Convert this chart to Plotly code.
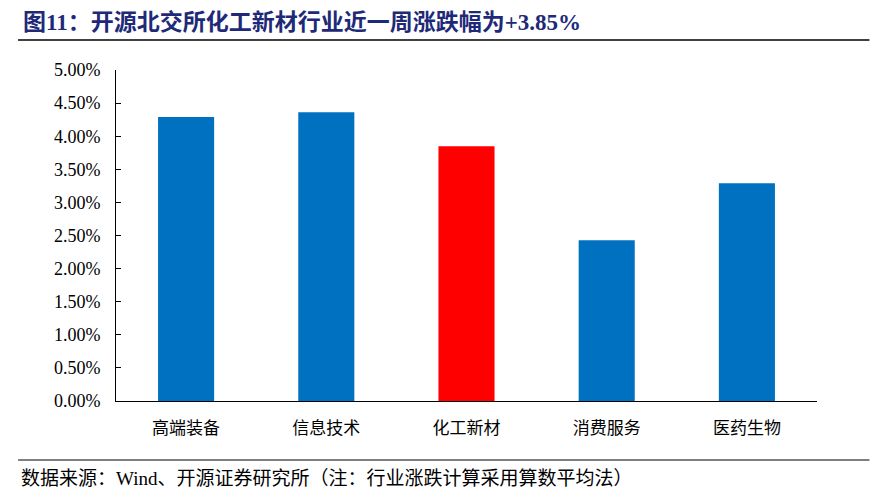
import plotly.graph_objects as go

categories = ["高端装备", "信息技术", "化工新材", "消费服务", "医药生物"]
values = [4.29, 4.36, 3.85, 2.43, 3.29]
bar_colors = ["#0070C0", "#0070C0", "#FF0000", "#0070C0", "#0070C0"]
tick_vals = [0, 0.5, 1, 1.5, 2, 2.5, 3, 3.5, 4, 4.5, 5]
tick_text = ["%.2f%%" % v for v in tick_vals]

title = "图11：开源北交所化工新材行业近一周涨跌幅为+3.85%"
footer = "数据来源：Wind、开源证券研究所（注：行业涨跌计算采用算数平均法）"

OFF = 8  # browser body margin
W, H = 882, 498
L, T = 116 - OFF, 70 - OFF
R = W - (817.5 - OFF)
B = H - (401 - OFF)
PW, PH = W - L - R, H - T - B


def px(x):
    return (x - OFF - L) / PW


def py(y):
    return (H - B - (y - OFF)) / PH


fig = go.Figure(go.Bar(
    x=categories, y=values,
    marker=dict(color=bar_colors, line=dict(width=0)),
    width=0.4,
))

fig.update_layout(
    width=W, height=H,
    margin=dict(l=L, r=R, t=T, b=B, autoexpand=False),
    paper_bgcolor="white", plot_bgcolor="white",
    showlegend=False,
    font=dict(family="Liberation Serif, Noto Sans CJK SC", color="black"),
    xaxis=dict(
        showline=True, linecolor="black", linewidth=1,
        ticks="", showgrid=False, automargin=False,
        tickfont=dict(family="Noto Sans CJK SC", size=17, color="black"),
        range=[-0.5, 4.5], ticklabelstandoff=12,
    ),
    yaxis=dict(
        range=[0, 5], tickvals=tick_vals, ticktext=tick_text,
        showline=True, linecolor="black", linewidth=1,
        ticks="inside", ticklen=5, tickcolor="black",
        showgrid=False, zeroline=False, automargin=False,
        tickfont=dict(family="Liberation Serif", size=18, color="black"),
        ticklabelstandoff=11,
    ),
    shapes=[
        dict(type="line", xref="paper", yref="paper", x0=px(18), x1=px(870),
             y0=py(40), y1=py(40), line=dict(color="black", width=1.5)),
        dict(type="line", xref="paper", yref="paper", x0=px(18), x1=px(870),
             y0=py(460), y1=py(460), line=dict(color="black", width=1)),
    ],
    annotations=[
        dict(text="<b>" + title + "</b>", xref="paper", yref="paper",
             x=px(21), y=py(22), xanchor="left", yanchor="middle",
             showarrow=False,
             font=dict(family="Liberation Serif, Noto Sans CJK SC", size=23, color="#1E2A78")),
        dict(text=footer, xref="paper", yref="paper",
             x=px(19), y=py(478), xanchor="left", yanchor="middle",
             showarrow=False,
             font=dict(family="Liberation Serif, Noto Sans CJK SC", size=19, color="black")),
    ],
)

fig.write_html("out.html")
